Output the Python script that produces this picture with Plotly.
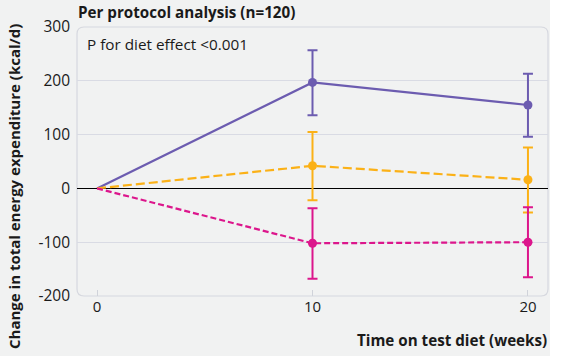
import plotly.graph_objects as go

weeks = [0, 10, 20]
purple_vals = [0, 197, 155]
purple_hi = [0, 257, 213]
purple_lo = [0, 136, 96]
orange_vals = [0, 42, 16]
orange_hi = [0, 105, 76]
orange_lo = [0, -22, -45]
magenta_vals = [0, -102, -100]
magenta_hi = [0, -37, -35]
magenta_lo = [0, -168, -165]
y_ticks = [-200, -100, 0, 100, 200, 300]
y_tick_labels = ["-200", "-100", "0", "100", "200", "300"]
x_ticks = [0, 10, 20]

FONT = "Open Sans"
BG = "#f1f2f2"
W, H = 561, 363
L, R, T, B = 77, 13, 27, 67
pw = W - L - R
ph = H - T - B


def px_x(p):
    return (p - L) / pw


def px_y(p):
    return 1 - (p - T) / ph


fig = go.Figure()


def add_series(vals, hi, lo, color, dash):
    up = [h - v for h, v in zip(hi, vals)]
    dn = [v - l for v, l in zip(vals, lo)]
    fig.add_trace(go.Scatter(
        x=weeks, y=vals, mode="lines",
        line=dict(color=color, width=2.2, dash=dash),
        showlegend=False))
    fig.add_trace(go.Scatter(
        x=weeks[1:], y=vals[1:], mode="markers",
        marker=dict(color=color, size=9),
        error_y=dict(type="data", symmetric=False, array=up[1:], arrayminus=dn[1:],
                     color=color, thickness=2, width=5),
        showlegend=False, hoverinfo="skip"))


add_series(purple_vals, purple_hi, purple_lo, "#6c5cb0", "solid")
add_series(orange_vals, orange_hi, orange_lo, "#fbb117", "9px,4px")
add_series(magenta_vals, magenta_hi, magenta_lo, "#dc168c", "6px,3px")

# rounded plot-area border
rx = 7 / pw
ry = 7 / ph
x0, x1, y0, y1 = 0, 1, 0, 1
path = (f"M {x0+rx},{y1} L {x1-rx},{y1} Q {x1},{y1} {x1},{y1-ry} "
        f"L {x1},{y0+ry} Q {x1},{y0} {x1-rx},{y0} L {x0+rx},{y0} "
        f"Q {x0},{y0} {x0},{y0+ry} L {x0},{y1-ry} Q {x0},{y1} {x0+rx},{y1} Z")

shapes = [
    dict(type="rect", xref="paper", yref="paper", x0=px_x(-5), x1=px_x(550),
         y0=px_y(356), y1=px_y(-5), fillcolor=BG, line=dict(width=0), layer="below"),
    dict(type="path", xref="paper", yref="paper", path=path,
         line=dict(color="#d6d8df", width=1.2), fillcolor="rgba(0,0,0,0)", layer="below"),
]

fig.update_layout(
    width=W, height=H,
    margin=dict(l=L, r=R, t=T, b=B, autoexpand=False),
    paper_bgcolor="#ffffff",
    plot_bgcolor=BG,
    font=dict(family=FONT, size=14, color="#1a1a1a"),
    shapes=shapes,
    xaxis=dict(range=[-0.93, 20.93], tickvals=x_ticks, showgrid=False, zeroline=False,
               showline=False, ticks="inside", ticklen=6, tickcolor="#d0d3da",
               tickfont=dict(size=15), fixedrange=True),
    yaxis=dict(range=[-200, 300], tickvals=y_ticks, ticktext=y_tick_labels,
               showgrid=True, gridcolor="#d9dbe4",
               gridwidth=1, zeroline=True, zerolinecolor="#000000", zerolinewidth=1.3,
               showline=False, ticks="", ticklabelstandoff=6,
               tickfont=dict(size=15.5), fixedrange=True),
    annotations=[
        dict(text="<b>Per protocol analysis (n=120)</b>", xref="paper", yref="paper",
             x=px_x(76), y=px_y(12), xanchor="left", yanchor="middle",
             showarrow=False, font=dict(size=15.2)),
        dict(text="P for diet effect &lt;0.001", xref="paper", yref="paper",
             x=px_x(85), y=px_y(44), xanchor="left", yanchor="middle",
             showarrow=False, font=dict(size=15.3)),
        dict(text="<b>Change in total energy expenditure (kcal/d)</b>", xref="paper",
             yref="paper", x=px_x(14), y=px_y(187), xanchor="center", yanchor="middle",
             textangle=-90, showarrow=False, font=dict(size=15)),
        dict(text="<b>Time on test diet (weeks)</b>", xref="paper", yref="paper",
             x=px_x(549), y=px_y(340), xanchor="right", yanchor="middle",
             showarrow=False, font=dict(size=15.2)),
    ],
)

fig.write_html("out.html", config=dict(displayModeBar=False),
               post_script="document.body.style.margin='0px';document.body.style.overflow='hidden';")
